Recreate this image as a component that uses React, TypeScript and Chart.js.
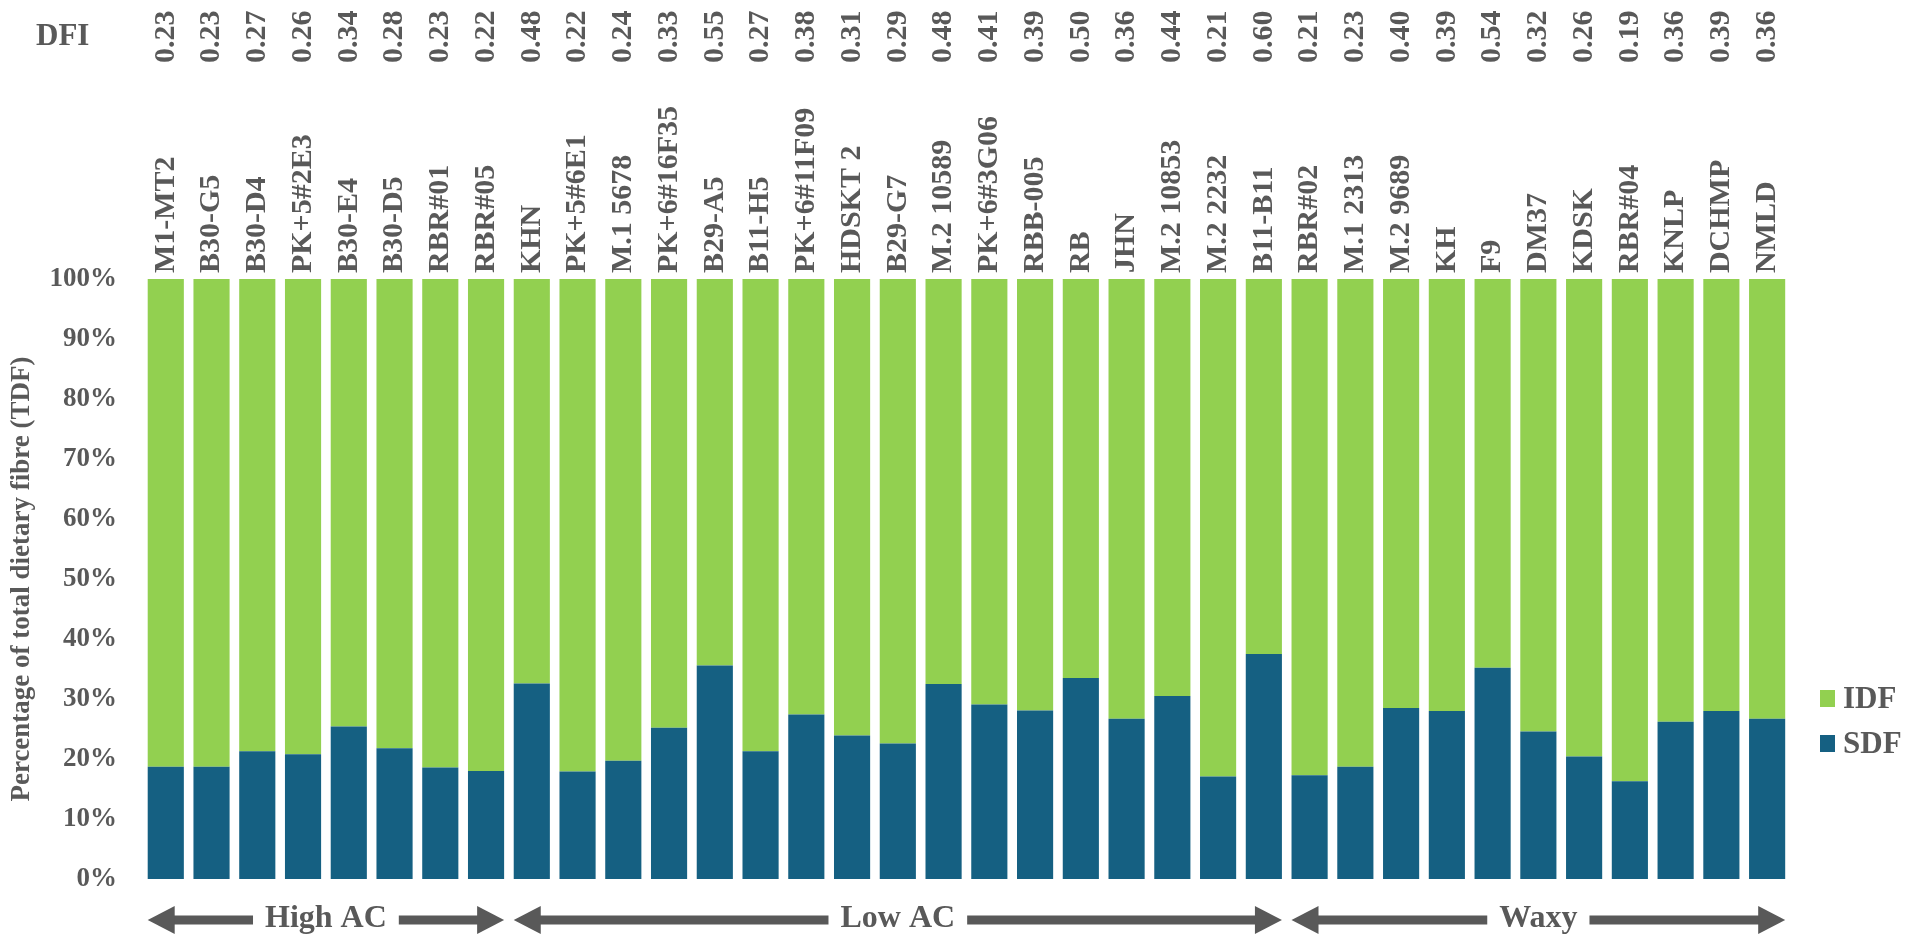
import { useEffect, useRef } from 'react'
import Chart from 'chart.js/auto'

const categories = [
  'M1-MT2', 'B30-G5', 'B30-D4', 'PK+5#2E3', 'B30-E4', 'B30-D5', 'RBR#01', 'RBR#05',
  'KHN', 'PK+5#6E1', 'M.1 5678', 'PK+6#16F35', 'B29-A5', 'B11-H5', 'PK+6#11F09',
  'HDSKT 2', 'B29-G7', 'M.2 10589', 'PK+6#3G06', 'RBB-005', 'RB', 'JHN', 'M.2 10853',
  'M.2 2232', 'B11-B11', 'RBR#02', 'M.1 2313', 'M.2 9689', 'KH', 'F9', 'DM37', 'KDSK',
  'RBR#04', 'KNLP', 'DCHMP', 'NMLD',
]

const dfiValues = [
  0.23, 0.23, 0.27, 0.26, 0.34, 0.28, 0.23, 0.22,
  0.48, 0.22, 0.24, 0.33, 0.55, 0.27, 0.38, 0.31, 0.29, 0.48, 0.41, 0.39, 0.5, 0.36, 0.44, 0.21, 0.6,
  0.21, 0.23, 0.4, 0.39, 0.54, 0.32, 0.26, 0.19, 0.36, 0.39, 0.36,
]

// percentage of TDF
const sdfValues = [
  18.7, 18.7, 21.3, 20.8, 25.4, 21.8, 18.6, 18.0,
  32.6, 17.9, 19.7, 25.2, 35.6, 21.3, 27.4, 23.9, 22.6, 32.5, 29.1, 28.1, 33.5, 26.7, 30.5, 17.1, 37.5,
  17.3, 18.7, 28.5, 28.0, 35.2, 24.6, 20.4, 16.3, 26.2, 28.0, 26.7,
]

const idfValues = [
  81.3, 81.3, 78.7, 79.2, 74.6, 78.2, 81.4, 82.0,
  67.4, 82.1, 80.3, 74.8, 64.4, 78.7, 72.6, 76.1, 77.4, 67.5, 70.9, 71.9, 66.5, 73.3, 69.5, 82.9, 62.5,
  82.7, 81.3, 71.5, 72.0, 64.8, 75.4, 79.6, 83.7, 73.8, 72.0, 73.3,
]

const groupLabels = ['High AC', 'Low AC', 'Waxy']
const groupStart = [0, 8, 25]
const groupEnd = [7, 24, 35]

const SERIF = '"Liberation Serif", "Times New Roman", serif'
const TEXT = '#595959'
const IDF_COLOR = '#92D050'
const SDF_COLOR = '#156082'

// chart.js shifts rotated top labels by one line height, undo it
const TOP_LABEL_SIZE = 30
const TOP_LABEL_SHIFT = TOP_LABEL_SIZE * 1.2

const annotations = {
  id: 'annotations',
  afterDraw(chart: Chart) {
    const { ctx, chartArea } = chart
    const x = chart.scales.x
    const bars = chart.getDatasetMeta(0).data as any[]
    ctx.save()
    ctx.fillStyle = TEXT

    // DFI row header
    ctx.font = `bold 31px ${SERIF}`
    ctx.textAlign = 'left'
    ctx.textBaseline = 'alphabetic'
    ctx.fillText('DFI', 36, 45)

    // legend
    const legendX = chartArea.right + 30
    const items = [
      { label: 'IDF', color: IDF_COLOR, cy: 698 },
      { label: 'SDF', color: SDF_COLOR, cy: 743 },
    ]
    ctx.font = `bold 31px ${SERIF}`
    items.forEach((item) => {
      ctx.fillStyle = item.color
      ctx.fillRect(legendX, item.cy - 8, 15, 17)
      ctx.fillStyle = TEXT
      ctx.fillText(item.label, legendX + 23, item.cy + 10)
    })

    // group arrows under the bars
    const y = chartArea.bottom + 41
    const shaft = 9
    const headLen = 27
    const headHalf = 14
    ctx.font = `bold 32px ${SERIF}`
    ctx.textAlign = 'center'
    groupLabels.forEach((label, g) => {
      const first = bars[groupStart[g]]
      const last = bars[groupEnd[g]]
      const x1 = x.getPixelForValue(groupStart[g]) - first.width / 2
      const x2 = x.getPixelForValue(groupEnd[g]) + last.width / 2
      const cx = (x1 + x2) / 2
      const half = ctx.measureText(label).width / 2 + 12
      ctx.fillStyle = TEXT
      ctx.fillRect(x1 + headLen - 1, y - shaft / 2, cx - half - (x1 + headLen - 1), shaft)
      ctx.fillRect(cx + half, y - shaft / 2, x2 - headLen + 1 - (cx + half), shaft)
      ctx.beginPath()
      ctx.moveTo(x1, y)
      ctx.lineTo(x1 + headLen, y - headHalf)
      ctx.lineTo(x1 + headLen, y + headHalf)
      ctx.closePath()
      ctx.fill()
      ctx.beginPath()
      ctx.moveTo(x2, y)
      ctx.lineTo(x2 - headLen, y - headHalf)
      ctx.lineTo(x2 - headLen, y + headHalf)
      ctx.closePath()
      ctx.fill()
      ctx.fillText(label, cx, y + 7)
    })
    ctx.restore()
  },
}

function App() {
  const canvasRef = useRef<HTMLCanvasElement | null>(null)

  useEffect(() => {
    if (!canvasRef.current) {
      return undefined
    }

    const topTicks = {
      autoSkip: false,
      minRotation: 90,
      maxRotation: 90,
      labelOffset: TOP_LABEL_SHIFT,
      color: TEXT,
      font: { family: SERIF, weight: 'bold' as const, size: TOP_LABEL_SIZE },
    }

    const chart = new Chart(canvasRef.current, {
      type: 'bar',
      data: {
        labels: categories,
        datasets: [
          {
            label: 'SDF',
            data: sdfValues,
            backgroundColor: SDF_COLOR,
            barPercentage: 0.79,
            categoryPercentage: 1,
          },
          {
            label: 'IDF',
            data: idfValues,
            backgroundColor: IDF_COLOR,
            barPercentage: 0.79,
            categoryPercentage: 1,
          },
        ],
      },
      options: {
        animation: false,
        responsive: true,
        maintainAspectRatio: false,
        layout: {
          padding: { left: 6, top: -26.5, right: 117, bottom: 63 },
        },
        plugins: {
          legend: { display: false },
          tooltip: { enabled: false },
        },
        scales: {
          x: {
            stacked: true,
            position: 'top',
            weight: 0,
            grid: { display: false, drawTicks: false },
            border: { display: false },
            ticks: { ...topTicks, padding: 6 },
          },
          x2: {
            type: 'category',
            labels: dfiValues.map((v) => v.toFixed(2)),
            position: 'top',
            offset: true,
            weight: 1,
            grid: { display: false, drawTicks: false },
            border: { display: false },
            ticks: { ...topTicks, padding: 37 },
          },
          y: {
            stacked: true,
            min: 0,
            max: 100,
            grid: { display: false, drawTicks: false },
            border: { display: false },
            ticks: {
              stepSize: 10,
              padding: 26,
              color: TEXT,
              font: { family: SERIF, weight: 'bold', size: 27 },
              callback: (value) => `${value}%`,
            },
            title: {
              display: true,
              text: 'Percentage of total dietary fibre (TDF)',
              color: TEXT,
              font: { family: SERIF, weight: 'bold', size: 27 },
              padding: { top: 0, bottom: -15 },
            },
          },
        },
      },
      plugins: [annotations],
    })

    return () => {
      chart.destroy()
    }
  }, [])

  return (
    <div style={{ position: 'fixed', inset: 0, background: '#ffffff' }}>
      <canvas ref={canvasRef} />
    </div>
  )
}

export default App
